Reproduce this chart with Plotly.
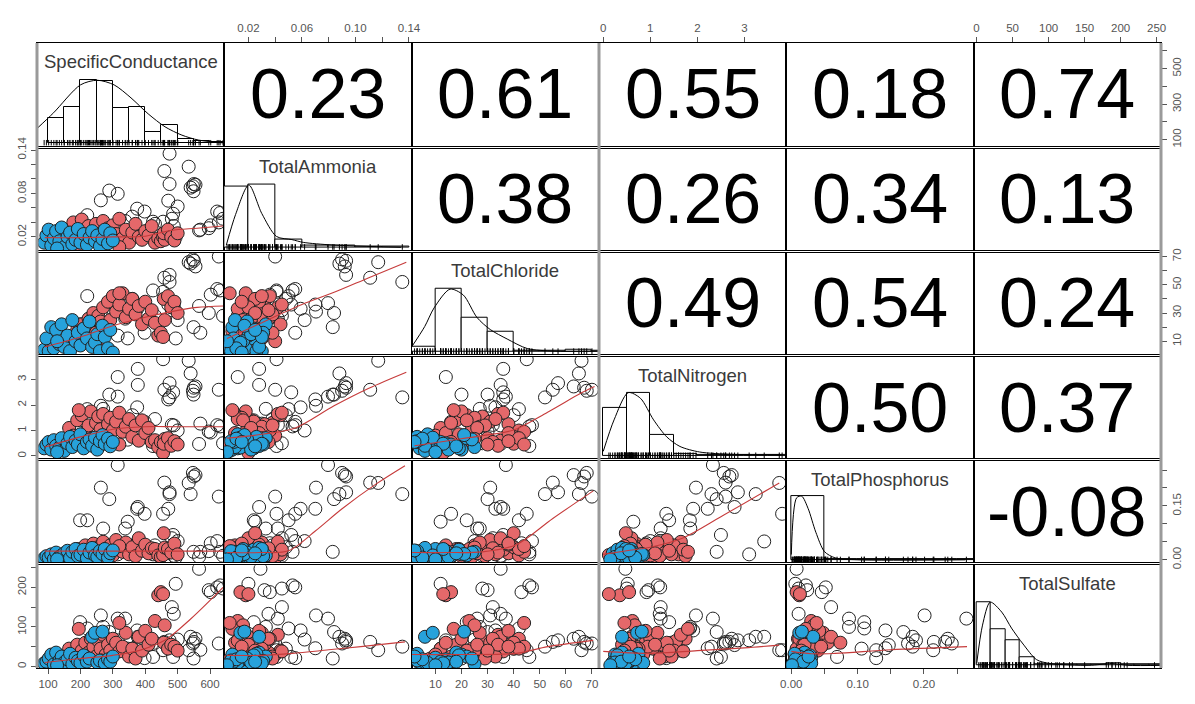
import plotly.graph_objects as go

var_names = ["SpecificConductance", "TotalAmmonia", "TotalChloride",
             "TotalNitrogen", "TotalPhosphorus", "TotalSulfate"]

# ---- observations, blue group ----
blue_sc = [88, 95, 102, 110, 118, 125, 135, 142, 150, 160, 168, 175, 185, 192, 200, 210, 220, 228, 236, 245, 252, 260, 268, 275, 285, 292, 300, 128]
blue_nh = [0.012, 0.022, 0.030, 0.008, 0.018, 0.028, 0.014, 0.033, 0.006, 0.020, 0.026, 0.010, 0.016, 0.031, 0.012, 0.024, 0.009, 0.019, 0.028, 0.014, 0.022, 0.007, 0.017, 0.030, 0.011, 0.025, 0.015, 0.004]
blue_cl = [4, 12, 3, 20, 5, 18, 8, 22, 6, 14, 3, 25, 10, 16, 7, 19, 12, 24, 6, 9, 15, 3, 21, 13, 5, 18, 2, 10]
blue_n = [0.30, 0.45, 0.55, 0.25, 0.62, 0.40, 0.33, 0.70, 0.20, 0.50, 0.75, 0.35, 0.60, 0.45, 0.85, 0.30, 0.55, 0.65, 0.40, 0.72, 0.25, 0.58, 0.82, 0.48, 0.68, 0.38, 0.55, 0.15]
blue_p = [0.004, 0.010, 0.006, 0.015, 0.002, 0.020, 0.008, 0.012, 0.018, 0.025, 0.005, 0.022, 0.030, 0.010, 0.014, 0.028, 0.004, 0.020, 0.033, 0.012, 0.008, 0.024, 0.016, 0.030, 0.006, 0.018, 0.026, 0.001]
blue_so4 = [8, 12, 20, 30, 5, 35, 15, 25, 10, 18, 32, 6, 22, 14, 9, 28, 12, 20, 75, 85, 10, 15, 88, 8, 18, 12, 25, 3]

# ---- observations, red group ----
red_sc = [150, 165, 178, 190, 204, 215, 225, 232, 240, 248, 255, 262, 270, 278, 285, 292, 300, 310, 320, 330, 340, 350, 360, 370, 380, 390, 400, 410, 420, 430, 440, 448, 455, 460, 457, 470, 480, 490, 500, 195, 320, 265]
red_nh = [0.015, 0.030, 0.040, 0.022, 0.044, 0.010, 0.035, 0.018, 0.028, 0.038, 0.012, 0.025, 0.042, 0.020, 0.032, 0.015, 0.036, 0.024, 0.045, 0.018, 0.030, 0.012, 0.026, 0.038, 0.020, 0.016, 0.028, 0.022, 0.035, 0.012, 0.018, 0.014, 0.020, 0.016, 0.025, 0.030, 0.020, 0.015, 0.025, 0.008, 0.006, 0.005]
red_cl = [8, 12, 10, 18, 22, 14, 26, 20, 30, 16, 28, 24, 34, 19, 38, 25, 42, 31, 36, 44, 27, 33, 40, 29, 35, 22, 38, 26, 32, 23, 14, 16, 13, 25, 40, 42, 34, 38, 30, 17, 44, 6]
red_n = [0.60, 1.10, 0.80, 1.40, 1.60, 0.90, 1.20, 1.75, 0.70, 1.30, 1.55, 1.05, 1.65, 0.85, 1.25, 1.50, 1.00, 1.35, 1.70, 0.95, 1.15, 1.45, 0.75, 1.20, 0.60, 1.40, 0.90, 1.10, 0.55, 0.62, 0.35, 0.55, 0.12, 0.67, 0.48, 0.70, 0.40, 0.58, 0.45, 1.80, 0.45, 0.50]
red_p = [0.010, 0.020, 0.005, 0.030, 0.015, 0.040, 0.025, 0.010, 0.045, 0.020, 0.035, 0.008, 0.050, 0.030, 0.018, 0.040, 0.012, 0.055, 0.028, 0.022, 0.048, 0.015, 0.035, 0.010, 0.060, 0.025, 0.042, 0.018, 0.032, 0.030, 0.012, 0.008, 0.013, 0.034, 0.074, 0.030, 0.020, 0.045, 0.015, 0.022, 0.038, 0.005]
red_so4 = [20, 45, 30, 55, 40, 60, 35, 70, 50, 25, 65, 45, 80, 30, 55, 40, 70, 60, 38, 50, 85, 25, 45, 20, 75, 40, 90, 55, 70, 115, 180, 188, 183, 104, 60, 45, 55, 50, 40, 95, 110, 15]

# ---- observations, open (unfilled) group ----
open_sc = [602, 631, 640, 566, 494, 622, 596, 475, 459, 534, 475, 550, 555, 547, 540, 471, 486, 549, 315, 377, 377, 263, 289, 315, 221, 375, 455, 482, 488, 338, 424, 346, 398, 570, 199, 270, 627, 500, 360, 430]
open_nh = [0.036, 0.053, 0.045, 0.029, 0.020, 0.055, 0.032, 0.135, 0.111, 0.117, 0.093, 0.093, 0.092, 0.090, 0.088, 0.070, 0.052, 0.083, 0.012, 0.028, 0.028, 0.0705, 0.084, 0.0795, 0.050, 0.059, 0.041, 0.045, 0.035, 0.042, 0.041, 0.025, 0.055, 0.030, 0.024, 0.033, 0.040, 0.062, 0.048, 0.038]
open_cl = [43, 46, 28, 35, 12, 47, 30, 52, 55, 66, 57, 67, 63, 68, 65, 36, 36, 20, 14, 36, 35, 31, 30, 37, 42, 33, 45, 32, 35, 26, 46, 12, 16, 16, 22, 27, 70, 25, 40, 28]
open_n = [0.92, 1.16, 0.50, 0.47, 0.52, 1.21, 0.96, 2.30, 2.60, 3.74, 2.86, 2.68, 2.73, 2.56, 3.24, 2.22, 2.50, 2.41, 3.10, 3.42, 2.79, 1.97, 2.41, 2.33, 1.84, 1.91, 3.80, 1.22, 1.20, 1.22, 0.39, 0.64, 1.34, 1.27, 1.40, 1.85, 2.60, 1.00, 1.60, 1.45]
open_p = [0.046, 0.022, 0.011, 0.008, 0.006, 0.052, 0.024, 0.183, 0.215, 0.214, 0.188, 0.232, 0.236, 0.242, 0.183, 0.142, 0.069, 0.022, 0.015, 0.051, 0.147, 0.201, 0.169, 0.264, 0.110, 0.142, 0.128, 0.060, 0.011, 0.087, 0.015, 0.106, 0.128, 0.022, 0.110, 0.087, 0.176, 0.052, 0.035, 0.040]
open_so4 = [188, 205, 197, 247, 209, 200, 193, 50, 62, 41, 66, 62, 70, 58, 75, 46, 24, 20, 66, 75, 54, 129, 87, 121, 96, 91, 41, 150, 133, 121, 24, 45, 21, 42, 112, 100, 58, 68, 45, 60]

# ---- correlations (upper triangle, row by row) ----
corr_labels = ["0.23", "0.61", "0.55", "0.18", "0.74",
               "0.38", "0.26", "0.34", "0.13",
               "0.49", "0.54", "0.24",
               "0.50", "0.37",
               "-0.08"]

# ---- histograms on the diagonal: first edge, bin width, bar heights ----
hist_start = [100, 0, 0, 0, 0, 0]
hist_width = [50, 0.02, 10, 0.5, 0.05, 20]
sc_hist = [7.6, 10.9, 19, 18.7, 10.5, 10.9, 3.4, 5.4, 1.2, 0.5, 0.2]
nh_hist = [18.6, 19.0, 2.4, 0.5, 0.6, 0.3, 0.3]
cl_hist = [1.4, 19, 10.4, 6.1, 0.3, 0.3, 0.5, 0.3]
n_hist = [14.7, 19.2, 6.3, 0.6, 0.3, 0.3, 0.3, 0.3]
p_hist = [19.4, 0.3, 0.2, 0.2, 0.2, 0.2]
so4_hist = [19, 10.9, 7.6, 2.5, 0.3, 0.3, 0.2, 0.2, 0.3, 0.5, 0.3, 0.2, 0.2]

# ---- density curves on the diagonal ----
sc_dens_x = [65, 117, 200, 252, 304, 356, 409, 461, 513, 565, 648]
sc_dens_y = [4.3, 9.1, 17.5, 18.9, 17.5, 13.6, 8.8, 4.9, 2.4, 0.9, 0]
nh_dens_x = [0.0035, 0.0104, 0.0203, 0.030, 0.041, 0.0525, 0.061, 0.083, 0.134]
nh_dens_y = [0.7, 10, 19, 10.3, 3.3, 2.35, 1.5, 0.7, 0]
cl_dens_x = [0.9, 5.9, 9.5, 15.6, 20.7, 25.9, 31, 37.5, 45.2, 55.5, 72.2]
cl_dens_y = [1.4, 7.6, 13.3, 19, 17.2, 10.4, 6.7, 3.8, 0.9, 0.1, 0.1]
n_dens_x = [0, 0.23, 0.53, 0.79, 1.07, 1.35, 1.63, 2.05, 2.74, 3.79]
n_dens_y = [1.3, 10.9, 19.2, 17.5, 10.9, 5.7, 2.8, 1.1, 0.4, 0.25]
p_dens_x = [0, 0.008, 0.0157, 0.0254, 0.037, 0.05, 0.066, 0.1, 0.262]
p_dens_y = [1.6, 18.9, 19.4, 15.6, 8.4, 2.5, 0.6, 0, 0]
so4_dens_x = [0.2, 8.3, 19, 35, 48.5, 64.6, 83.4, 102, 156, 188, 210, 258]
so4_dens_y = [0.55, 12.1, 19, 16, 11.2, 6.4, 1.7, 0.55, 0, 0.55, 0, 0]

# ---- smoothed fits in the lower panels: knots along (column var, row var) ----
fit_2_1 = ([90, 200, 300, 400, 480, 560, 640], [0.019, 0.019, 0.020, 0.021, 0.029, 0.032, 0.035])
fit_3_1 = ([90, 200, 300, 400, 480, 560, 640], [6, 13, 21, 27, 31, 34, 35])
fit_4_1 = ([90, 200, 300, 400, 500, 640], [0.35, 0.75, 1.05, 1.15, 1.15, 1.15])
fit_5_1 = ([90, 300, 500, 640], [0.024, 0.024, 0.024, 0.024])
fit_6_1 = ([90, 200, 300, 380, 460, 540, 640], [10, 20, 28, 40, 66, 120, 200])
fit_3_2 = ([0.004, 0.025, 0.06, 0.085, 0.11, 0.138], [12, 21, 36, 45, 55, 66])
fit_4_2 = ([0.004, 0.03, 0.055, 0.084, 0.11, 0.138], [0.7, 0.85, 1.1, 1.97, 2.66, 3.29])
fit_5_2 = ([0.004, 0.03, 0.05, 0.07, 0.09, 0.115, 0.137], [0.02, 0.02, 0.025, 0.08, 0.142, 0.21, 0.262])
fit_6_2 = ([0.004, 0.03, 0.053, 0.08, 0.104, 0.137], [28, 28, 33, 42, 50, 62])
fit_4_3 = ([2, 15, 28, 40, 53, 66, 71], [0.4, 0.6, 0.8, 1.02, 1.72, 2.48, 2.73])
fit_5_3 = ([1, 15, 28, 41, 55, 70.5], [0.02, 0.02, 0.022, 0.042, 0.115, 0.192])
fit_6_3 = ([1, 20, 41, 53, 70.5], [30, 30, 33, 50, 66])
fit_5_4 = ([0.0, 0.5, 1.0, 1.68, 2.5, 3.74], [0.015, 0.025, 0.035, 0.06, 0.12, 0.214])
fit_6_4 = ([0.0, 1.0, 2.0, 3.0, 3.74], [38, 33, 40, 47, 54])
fit_6_5 = ([0.0, 0.03, 0.066, 0.15, 0.265], [38, 32, 33, 42, 50])

# ---- axis ticks ----
sc_ticks = [100, 200, 300, 400, 500, 600]
sc_bottom_labels = ["100", "200", "300", "400", "500", "600"]
sc_right_labels = ["100", "", "300", "", "500", ""]
nh_ticks = [0.02, 0.04, 0.06, 0.08, 0.10, 0.12, 0.14]
nh_top_labels = ["0.02", "", "0.06", "", "0.10", "", "0.14"]
nh_left_labels = ["0.02", "", "", "0.08", "", "", "0.14"]
cl_ticks = [10, 20, 30, 40, 50, 60, 70]
cl_bottom_labels = ["10", "20", "30", "40", "50", "60", "70"]
cl_right_labels = ["10", "", "30", "", "50", "", "70"]
n_ticks = [0, 1, 2, 3]
n_top_labels = ["0", "1", "2", "3"]
n_left_labels = ["0", "1", "2", "3"]
p_ticks = [0, 0.05, 0.10, 0.15, 0.20, 0.25]
p_bottom_labels = ["0.00", "", "0.10", "", "0.20", ""]
p_right_labels = ["0.00", "", "", "0.15", "", ""]
so4_ticks = [0, 50, 100, 150, 200, 250]
so4_top_labels = ["0", "50", "100", "150", "200", "250"]
so4_left_labels = ["0", "", "100", "", "200", ""]

var_ranges = [[66, 644], [0.002, 0.142], [0.9, 72.7], [-0.09, 3.89], [-0.0075, 0.275], [-4, 256]]
diag_range = [-0.8, 30.1]

# ---------------------------------------------------------------------------
blue = [blue_sc, blue_nh, blue_cl, blue_n, blue_p, blue_so4]
red = [red_sc, red_nh, red_cl, red_n, red_p, red_so4]
opn = [open_sc, open_nh, open_cl, open_n, open_p, open_so4]
hists = [sc_hist, nh_hist, cl_hist, n_hist, p_hist, so4_hist]
dens = [(sc_dens_x, sc_dens_y), (nh_dens_x, nh_dens_y), (cl_dens_x, cl_dens_y),
        (n_dens_x, n_dens_y), (p_dens_x, p_dens_y), (so4_dens_x, so4_dens_y)]
fits = {(1, 0): fit_2_1, (2, 0): fit_3_1, (3, 0): fit_4_1, (4, 0): fit_5_1, (5, 0): fit_6_1,
        (2, 1): fit_3_2, (3, 1): fit_4_2, (4, 1): fit_5_2, (5, 1): fit_6_2,
        (3, 2): fit_4_3, (4, 2): fit_5_3, (5, 2): fit_6_3,
        (4, 3): fit_5_4, (5, 3): fit_6_4, (5, 4): fit_6_5}
tick_vals = [sc_ticks, nh_ticks, cl_ticks, n_ticks, p_ticks, so4_ticks]
x_labels = [sc_bottom_labels, nh_top_labels, cl_bottom_labels, n_top_labels, p_bottom_labels, so4_top_labels]
y_labels = [sc_right_labels, nh_left_labels, cl_right_labels, n_left_labels, p_right_labels, so4_left_labels]

NV = 6
GAP = 0.0045
TICK_FONT = dict(family="Liberation Sans, Arial", size=11.5, color="#555")

fig = go.Figure()
layout = {}
annotations = []


def ax_names(i, j):
    k = i * NV + j + 1
    return ("x" if k == 1 else f"x{k}"), ("y" if k == 1 else f"y{k}"), k


for i in range(NV):
    for j in range(NV):
        xa, ya, k = ax_names(i, j)
        x0, x1 = j / NV, (j + 1) / NV
        y0 = 1 - (i + 1) / NV + (GAP / 2 if i < NV - 1 else 0)
        y1 = 1 - i / NV - (GAP / 2 if i > 0 else 0)

        xaxis = dict(domain=[x0, x1], anchor=ya, range=var_ranges[j], showgrid=False,
                     zeroline=False, showline=True, linecolor="black", linewidth=1,
                     mirror=True, showticklabels=False, ticks="", fixedrange=True)
        yaxis = dict(domain=[y0, y1], anchor=xa,
                     range=diag_range if i == j else var_ranges[i], showgrid=False,
                     zeroline=False, showline=True, linecolor="black", linewidth=1,
                     mirror=True, showticklabels=False, ticks="", fixedrange=True)

        if i == 0 and j % 2 == 1:
            xaxis.update(side="top", ticks="outside", ticklen=5, tickcolor="#555",
                         showticklabels=True, tickmode="array", tickvals=tick_vals[j],
                         ticktext=x_labels[j], tickfont=TICK_FONT)
        if i == NV - 1 and j % 2 == 0:
            xaxis.update(side="bottom", ticks="outside", ticklen=5, tickcolor="#555",
                         showticklabels=True, tickmode="array", tickvals=tick_vals[j],
                         ticktext=x_labels[j], tickfont=TICK_FONT)
        if j == 0 and i % 2 == 1:
            yaxis.update(side="left", ticks="outside", ticklen=5, tickcolor="#555",
                         showticklabels=True, tickmode="array", tickvals=tick_vals[i],
                         ticktext=y_labels[i], tickfont=TICK_FONT, tickangle=-90)
        if j == NV - 1 and i % 2 == 0:
            yaxis.update(side="right", ticks="outside", ticklen=5, tickcolor="#555",
                         showticklabels=True, tickmode="array", tickvals=tick_vals[i],
                         ticktext=y_labels[i], tickfont=TICK_FONT, tickangle=-90)

        layout["xaxis" if k == 1 else f"xaxis{k}"] = xaxis
        layout["yaxis" if k == 1 else f"yaxis{k}"] = yaxis

        if i == j:
            # histogram, density curve, rug, name
            h = hists[i]
            centers = [hist_start[i] + hist_width[i] * (b + 0.5) for b in range(len(h))]
            fig.add_trace(go.Bar(x=centers, y=h, width=[hist_width[i]] * len(h),
                                 marker=dict(color="white", line=dict(color="black", width=1)),
                                 xaxis=xa, yaxis=ya, showlegend=False, hoverinfo="skip"))
            dx, dy = dens[i]
            fig.add_trace(go.Scatter(x=dx, y=dy, mode="lines",
                                     line=dict(color="black", width=1, shape="spline", smoothing=0.8),
                                     xaxis=xa, yaxis=ya, showlegend=False, hoverinfo="skip"))
            rug = blue[i] + red[i] + opn[i]
            fig.add_trace(go.Scatter(x=rug, y=[0.1] * len(rug), mode="markers",
                                     marker=dict(symbol="line-ns", size=4,
                                                 line=dict(color="black", width=1)),
                                     xaxis=xa, yaxis=ya, showlegend=False, hoverinfo="skip"))
            annotations.append(dict(text=var_names[i], xref=f"{xa} domain", yref=f"{ya} domain",
                                    x=0.5, y=0.82, showarrow=False, xanchor="center", yanchor="middle",
                                    font=dict(family="Liberation Sans, Arial", size=18.5, color="#3a3a3a")))
        elif i < j:
            # empty trace so the panel frame and its outer ticks are drawn
            fig.add_trace(go.Scatter(x=[], y=[], mode="markers", xaxis=xa, yaxis=ya,
                                     showlegend=False, hoverinfo="skip"))
        else:
            for grp, fill in ((opn, "rgba(0,0,0,0)"), (red, "#E5686A"), (blue, "#27A2DB")):
                fig.add_trace(go.Scatter(x=grp[j], y=grp[i], mode="markers",
                                         marker=dict(size=13, color=fill,
                                                     line=dict(color="#222", width=1)),
                                         xaxis=xa, yaxis=ya, showlegend=False, hoverinfo="skip"))
            fx, fy = fits[(i, j)]
            fig.add_trace(go.Scatter(x=fx, y=fy, mode="lines",
                                     line=dict(color="#C63B3B", width=1.1, shape="spline", smoothing=0.9),
                                     xaxis=xa, yaxis=ya, showlegend=False, hoverinfo="skip"))

# correlation labels in the upper panels
c = 0
for i in range(NV):
    for j in range(i + 1, NV):
        xa, ya, k = ax_names(i, j)
        annotations.append(dict(text=corr_labels[c], xref=f"{xa} domain", yref=f"{ya} domain",
                                x=0.5, y=0.5, showarrow=False, xanchor="center", yanchor="middle",
                                font=dict(family="Liberation Sans, Arial", size=70, color="black")))
        c += 1

shapes = []
for xp in (0, 0.5, 1):
    shapes.append(dict(type="line", xref="paper", yref="paper", x0=xp, x1=xp, y0=0, y1=1,
                       line=dict(color="#9a9a9a", width=3)))

fig.update_layout(**layout)
fig.update_layout(width=1195, height=704, autosize=False,
                  margin=dict(l=37, r=32, t=43, b=36),
                  paper_bgcolor="white", plot_bgcolor="white",
                  annotations=annotations, shapes=shapes, bargap=0,
                  showlegend=False)

fig.write_html("out.html")
